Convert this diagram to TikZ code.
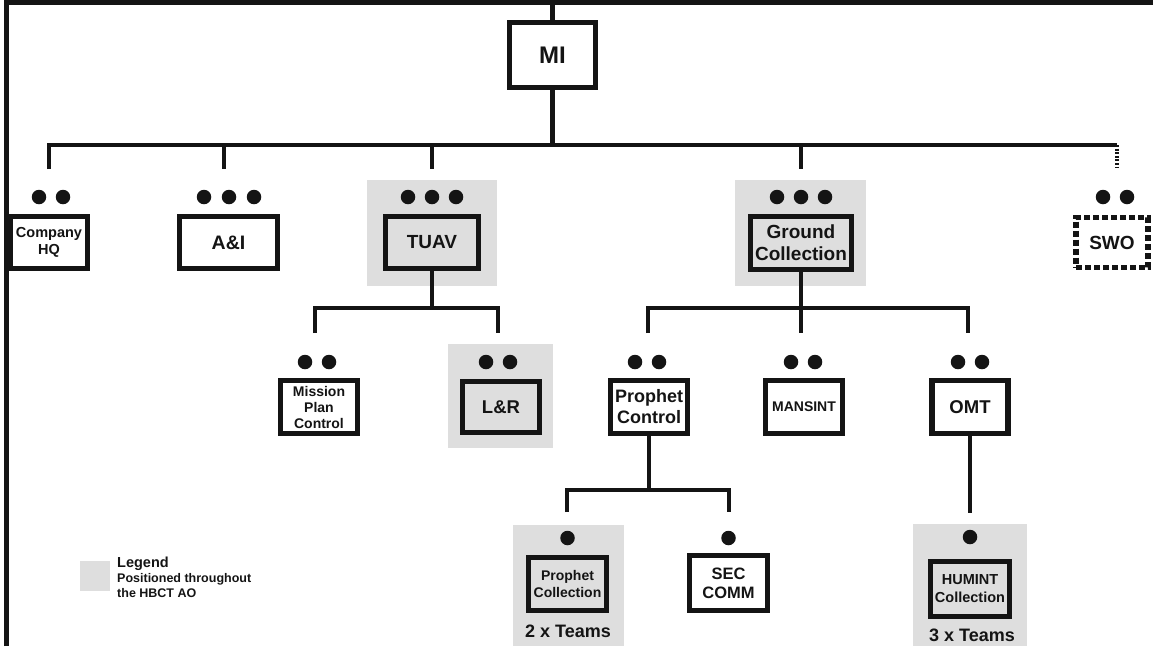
\documentclass[tikz,border=0pt]{standalone}
\usepackage{fontspec}
\setmainfont{Liberation Sans}
\definecolor{ink}{HTML}{141414}
\definecolor{field}{RGB}{222,222,222}
\begin{document}
\begin{tikzpicture}[x=1pt,y=-1pt,
  conn/.style={draw=ink, line width=4.6pt, line join=miter},
  unit/.style={draw=ink, line width=5.6pt, fill=white, inner sep=0pt, align=center, text=ink},
  shaded/.style={unit, fill=field},
  dotmark/.style={circle, fill=ink, inner sep=0pt, minimum size=14.5pt},
  fs/.style n args={2}{font=\fontsize{#1}{#2}\selectfont\bfseries},
  area/.style={fill=field}
]
\useasboundingbox (0,0) rectangle (1153,646);

% page frame (left and top rules)
\draw[draw=ink, line width=4.5pt] (6.5,646) -- (6.5,2.5) -- (1153,2.5);

% shaded areas: elements positioned throughout the HBCT AO
\fill[area] (367,180) rectangle (497,286);
\fill[area] (735,180) rectangle (866,286);
\fill[area] (448,344) rectangle (553,448);
\fill[area] (513,525) rectangle (624,646);
\fill[area] (913,524) rectangle (1027,646);

% ---- top level
\node[unit, minimum width=86pt, minimum height=65pt, fs={24}{26}] (mi) at (552.5,55) {MI};
\coordinate (mi-in) at (552.5,0);
\coordinate (bar) at (552.5,145);

% ---- second level
\node[unit, minimum width=77pt, minimum height=52pt, fs={14.5}{17}] (chq) at (49,242.5) {Company\\HQ};
\node[unit, minimum width=98pt, minimum height=52pt, fs={19.5}{22}] (ai) at (228.5,242.5) {A\&I};
\node[shaded, minimum width=93pt, minimum height=52pt, fs={19}{22}] (tuav) at (432,242.5) {TUAV};
\node[shaded, minimum width=101pt, minimum height=53pt, fs={19}{22}] (gc) at (801,243) {Ground\\Collection};
\node[unit, minimum width=72pt, minimum height=50pt, fs={19}{22}, dash pattern=on 6pt off 3pt] (swo) at (1112,242.5) {SWO};

\foreach \x [count=\i] in {39,63} \node[dotmark] (chq-d\i) at (\x,197) {};
\foreach \x [count=\i] in {204,229,254} \node[dotmark] (ai-d\i) at (\x,197) {};
\foreach \x [count=\i] in {408,432,456} \node[dotmark] (tuav-d\i) at (\x,197) {};
\foreach \x [count=\i] in {777,801,825} \node[dotmark] (gc-d\i) at (\x,197) {};
\foreach \x [count=\i] in {1103,1127} \node[dotmark] (swo-d\i) at (\x,197) {};

\coordinate (chq-in) at (49,169);
\coordinate (ai-j) at (224,145);
\coordinate (ai-in) at (224,169);
\coordinate (tuav-j) at (432,145);
\coordinate (tuav-in) at (432,169);
\coordinate (gc-j) at (801,145);
\coordinate (gc-in) at (801,169);
\coordinate (swo-j) at (1117,145);
\coordinate (swo-in) at (1117,168);

\draw[conn] (mi-in) -- (mi.north);
\draw[conn] (mi.south) -- (bar);
\draw[conn] (chq-in) |- (swo-j);
\draw[conn] (ai-j) -- (ai-in);
\draw[conn] (tuav-j) -- (tuav-in);
\draw[conn] (gc-j) -- (gc-in);
\draw[conn, dash pattern=on 2pt off 1.6pt] (swo-j) -- (swo-in);

% ---- third level under TUAV
\node[unit, minimum width=77pt, minimum height=53pt, fs={14}{16}] (mpc) at (319,407) {Mission\\Plan\\Control};
\node[shaded, minimum width=77pt, minimum height=51pt, fs={18.5}{21}] (lr) at (501,407) {L\&R};
\foreach \x [count=\i] in {305,329} \node[dotmark] (mpc-d\i) at (\x,362) {};
\foreach \x [count=\i] in {486,510} \node[dotmark] (lr-d\i) at (\x,362) {};

\coordinate (tuav-k) at (432,308);
\coordinate (mpc-in) at (315,333);
\coordinate (lr-in) at (498,333);
\draw[conn] (tuav.south) -- (tuav-k);
\draw[conn] (mpc-in) |- (tuav-k) -| (lr-in);

% ---- third level under Ground Collection
\node[unit, minimum width=77pt, minimum height=53pt, fs={18}{21}] (pc) at (649,407) {Prophet\\Control};
\node[unit, minimum width=77pt, minimum height=53pt, fs={14}{16}] (mansint) at (804,407) {MANSINT};
\node[unit, minimum width=76pt, minimum height=53pt, fs={18.5}{21}] (omt) at (970,407) {OMT};
\foreach \x [count=\i] in {635,659} \node[dotmark] (pc-d\i) at (\x,362) {};
\foreach \x [count=\i] in {791,815} \node[dotmark] (mansint-d\i) at (\x,362) {};
\foreach \x [count=\i] in {958,982} \node[dotmark] (omt-d\i) at (\x,362) {};

\coordinate (gc-k) at (801,308);
\coordinate (pc-in) at (648,333);
\coordinate (mansint-in) at (801,333);
\coordinate (omt-in) at (968,333);
\draw[conn] (gc.south) -- (gc-k);
\draw[conn] (pc-in) |- (gc-k) -| (omt-in);
\draw[conn] (gc-k) -- (mansint-in);

% ---- fourth level
\node[shaded, minimum width=78pt, minimum height=53pt, fs={14}{17.5}] (pcoll) at (567.5,584) {Prophet\\Collection};
\node[unit, minimum width=78pt, minimum height=55pt, fs={16.5}{19}] (sec) at (728.5,583) {SEC\\COMM};
\node[shaded, minimum width=79pt, minimum height=55pt, fs={14.5}{18}] (humint) at (970,589) {HUMINT\\Collection};
\node[dotmark] (pcoll-d1) at (567.5,538) {};
\node[dotmark] (sec-d1) at (728.5,538) {};
\node[dotmark] (humint-d1) at (970,537) {};
\node[text=ink, inner sep=0pt, fs={18}{20}] (pcoll-n) at (568,631) {2 x Teams};
\node[text=ink, inner sep=0pt, fs={18}{20}] (humint-n) at (972,635) {3 x Teams};

\coordinate (pc-k) at (649,490);
\coordinate (pcoll-in) at (567,512);
\coordinate (sec-in) at (729,512);
\coordinate (humint-in) at (970,513);
\draw[conn] (pc.south) -- (pc-k);
\draw[conn] (pcoll-in) |- (pc-k) -| (sec-in);
\draw[conn] (omt.south) -- (humint-in);

% ---- legend
\fill[area] (80,561) rectangle (110,591);
\node[anchor=base west, inner sep=0pt, text=ink, fs={14.5}{16}] (lg1) at (117,567) {Legend};
\node[anchor=base west, inner sep=0pt, text=ink, fs={12.5}{15}] (lg2) at (117,582) {Positioned throughout};
\node[anchor=base west, inner sep=0pt, text=ink, fs={12.5}{15}] (lg3) at (117,597) {the HBCT AO};
\end{tikzpicture}
\end{document}
